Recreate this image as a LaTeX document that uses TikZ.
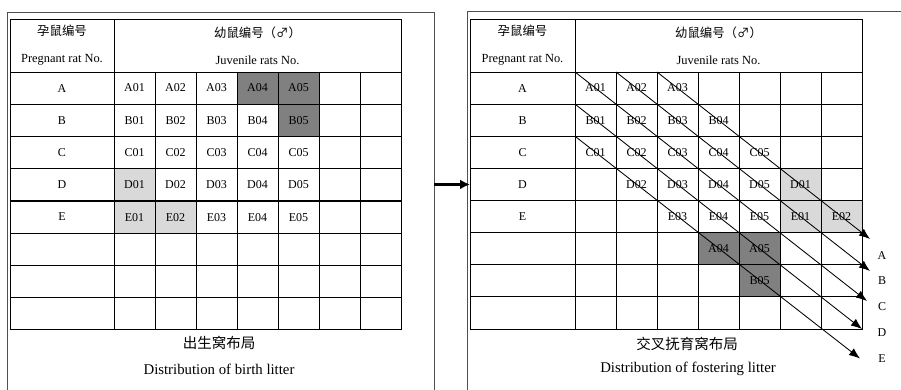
\documentclass[tikz,border=0pt]{standalone}
\usepackage{fontspec}
\setmainfont{Liberation Serif}
\newfontfamily\cjk{Noto Sans CJK SC}
\usetikzlibrary{arrows.meta,calc}
\definecolor{dk}{HTML}{808080}
\definecolor{lt}{HTML}{D9D9D9}
\definecolor{framec}{HTML}{505050}
\tikzset{
  cell/.style={draw=black, line width=0.8pt, anchor=north west, inner sep=0pt, outer sep=0pt,
    minimum width=41pt, minimum height=32.125pt, font=\fontsize{12}{12}\selectfont},
  lab/.style={cell, minimum width=104pt},
  hdr/.style={draw=black, line width=0.8pt, anchor=north west, inner sep=0pt, outer sep=0pt,
    minimum height=53pt, align=center, font=\fontsize{12.4}{27}\selectfont},
  framebox/.style={draw=framec, line width=0.9pt, anchor=north west, inner sep=0pt, outer sep=0pt},
  diag/.style={line width=0.85pt, -{Latex[length=11pt,width=8.5pt]}},
  capen/.style={font=\fontsize{14.8}{16}\selectfont},
  capzh/.style={font=\cjk\fontsize{14.5}{16}\selectfont},
  side/.style={font=\fontsize{12}{12}\selectfont},
}
\begin{document}
\begin{tikzpicture}[x=1pt,y=-1pt]
\useasboundingbox (0,0) rectangle (901,389);
\begin{scope}
\clip (0,0) rectangle (901,389);
\node[framebox, minimum width=427pt, minimum height=420pt] (LF) at (7,12) {};
\node[framebox, minimum width=460pt, minimum height=420pt] (RF) at (467,11) {};
\end{scope}

% ---------- left table ----------
\node[hdr, minimum width=104pt] (L-h0) at (10,19) {{\cjk 孕鼠编号}\\Pregnant rat No.};
\node[hdr, minimum width=287pt] (L-h1) at (114,19) {{\cjk 幼鼠编号（♂）}\\Juvenile rats No.};
\foreach \r/\lbl/\row in {
  1/A/{A01/none,A02/none,A03/none,A04/dk,A05/dk,{}/none,{}/none},
  2/B/{B01/none,B02/none,B03/none,B04/none,B05/dk,{}/none,{}/none},
  3/C/{C01/none,C02/none,C03/none,C04/none,C05/none,{}/none,{}/none},
  4/D/{D01/lt,D02/none,D03/none,D04/none,D05/none,{}/none,{}/none},
  5/E/{E01/lt,E02/lt,E03/none,E04/none,E05/none,{}/none,{}/none},
  6/{}/{{}/none,{}/none,{}/none,{}/none,{}/none,{}/none,{}/none},
  7/{}/{{}/none,{}/none,{}/none,{}/none,{}/none,{}/none,{}/none},
  8/{}/{{}/none,{}/none,{}/none,{}/none,{}/none,{}/none,{}/none}}{
  \node[lab] (L-\r-0) at (10,{72+(\r-1)*32.25}) {\lbl};
  \foreach[count=\c] \t/\f in \row {
    \node[cell, fill=\f] (L-\r-\c) at ({114+(\c-1)*41},{72+(\r-1)*32.25}) {\t};
  }
}

% ---------- right table ----------
\node[hdr, minimum width=105pt] (R-h0) at (470,19) {{\cjk 孕鼠编号}\\Pregnant rat No.};
\node[hdr, minimum width=287pt] (R-h1) at (575,19) {{\cjk 幼鼠编号（♂）}\\Juvenile rats No.};
\foreach \r/\lbl/\row in {
  1/A/{A01/none,A02/none,A03/none,{}/none,{}/none,{}/none,{}/none},
  2/B/{B01/none,B02/none,B03/none,B04/none,{}/none,{}/none,{}/none},
  3/C/{C01/none,C02/none,C03/none,C04/none,C05/none,{}/none,{}/none},
  4/D/{{}/none,D02/none,D03/none,D04/none,D05/none,D01/lt,{}/none},
  5/E/{{}/none,{}/none,E03/none,E04/none,E05/none,E01/lt,E02/lt},
  6/{}/{{}/none,{}/none,{}/none,A04/dk,A05/dk,{}/none,{}/none},
  7/{}/{{}/none,{}/none,{}/none,{}/none,B05/dk,{}/none,{}/none},
  8/{}/{{}/none,{}/none,{}/none,{}/none,{}/none,{}/none,{}/none}}{
  \node[lab, minimum width=105pt] (R-\r-0) at (470,{72+(\r-1)*32.125}) {\lbl};
  \foreach[count=\c] \t/\f in \row {
    \node[cell, fill=\f] (R-\r-\c) at ({575+(\c-1)*41},{72+(\r-1)*32.125}) {\t};
  }
}

% ---------- diagonal arrows ----------
\coordinate (eA) at (870,239);
\coordinate (eB) at (870,271);
\coordinate (eC) at (867,301);
\coordinate (eD) at (862,329);
\coordinate (eE) at (860,358.5);
\draw[diag] (R-1-3.north west) -- (eA);
\draw[diag] (R-1-2.north west) -- (eB);
\draw[diag] (R-1-1.north west) -- (eC);
\draw[diag] (R-2-1.north west) -- (eD);
\draw[diag] (R-3-1.north west) -- (eE);
\node[side] (tA) at (882,256) {A};
\node[side] (tB) at (882,281) {B};
\node[side] (tC) at (882,307) {C};
\node[side] (tD) at (882,333) {D};
\node[side] (tE) at (882,359) {E};

% ---------- captions ----------
\node[capzh] (Lc1) at (219,343) {出生窝布局};
\node[capen] (Lc2) at (219,369) {Distribution of birth litter};
\node[capzh] (Rc1) at (687,344) {交叉抚育窝布局};
\node[capen] (Rc2) at (688,369) {Distribution of fostering litter};

% ---------- link arrow ----------
\draw[line width=2.4pt, -{Latex[length=10pt,width=10pt]}] (LF.east |- R-4-0.west) -- (R-4-0.west);
\end{tikzpicture}
\end{document}
